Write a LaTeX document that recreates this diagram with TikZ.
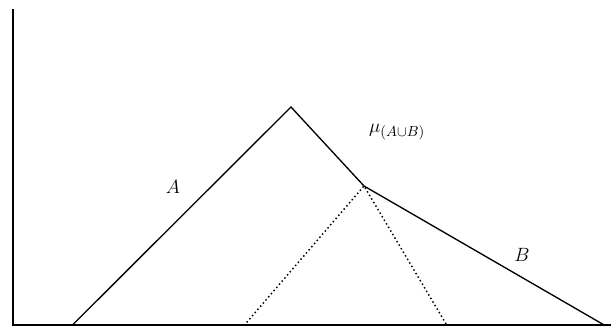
\documentclass[tikz,border=0pt]{standalone}
\usepackage{amsmath,amssymb}
\usetikzlibrary{positioning}

\begin{document}
\begin{tikzpicture}[x=0.75pt, y=-0.75pt,
  axis/.style={line width=1.5pt},
  memb/.style={line width=1pt},
  aux/.style={line width=1.1pt, dotted},
  lbl/.style={font=\fontsize{15}{18}\selectfont}]
\useasboundingbox (0,0) rectangle (611,327);
% axes
\coordinate (top) at (13,9);
\coordinate (orig) at (13,325.5);
\coordinate (xend) at (611,325.5);
\draw[axis] (top) -- (orig) -- (xend);
% membership functions
\coordinate (a0) at (72,325.5);
\coordinate (apeak) at (291,107);
\coordinate (knee) at (364,186);
\coordinate (b1) at (605,325.5);
\coordinate (d0) at (244,325.5);
\coordinate (d1) at (447,325.5);
\draw[memb] (a0) -- (apeak) -- (knee) -- (b1);
\draw[aux] (d0) -- (knee) -- (d1);
% labels
\node[lbl] (lA) at (173,187) {$A$};
\node[lbl] (lB) at (522,255) {$B$};
\node[lbl] (lU) at (397,132) {$\mu_{(A\cup B)}$};
\end{tikzpicture}
\end{document}
